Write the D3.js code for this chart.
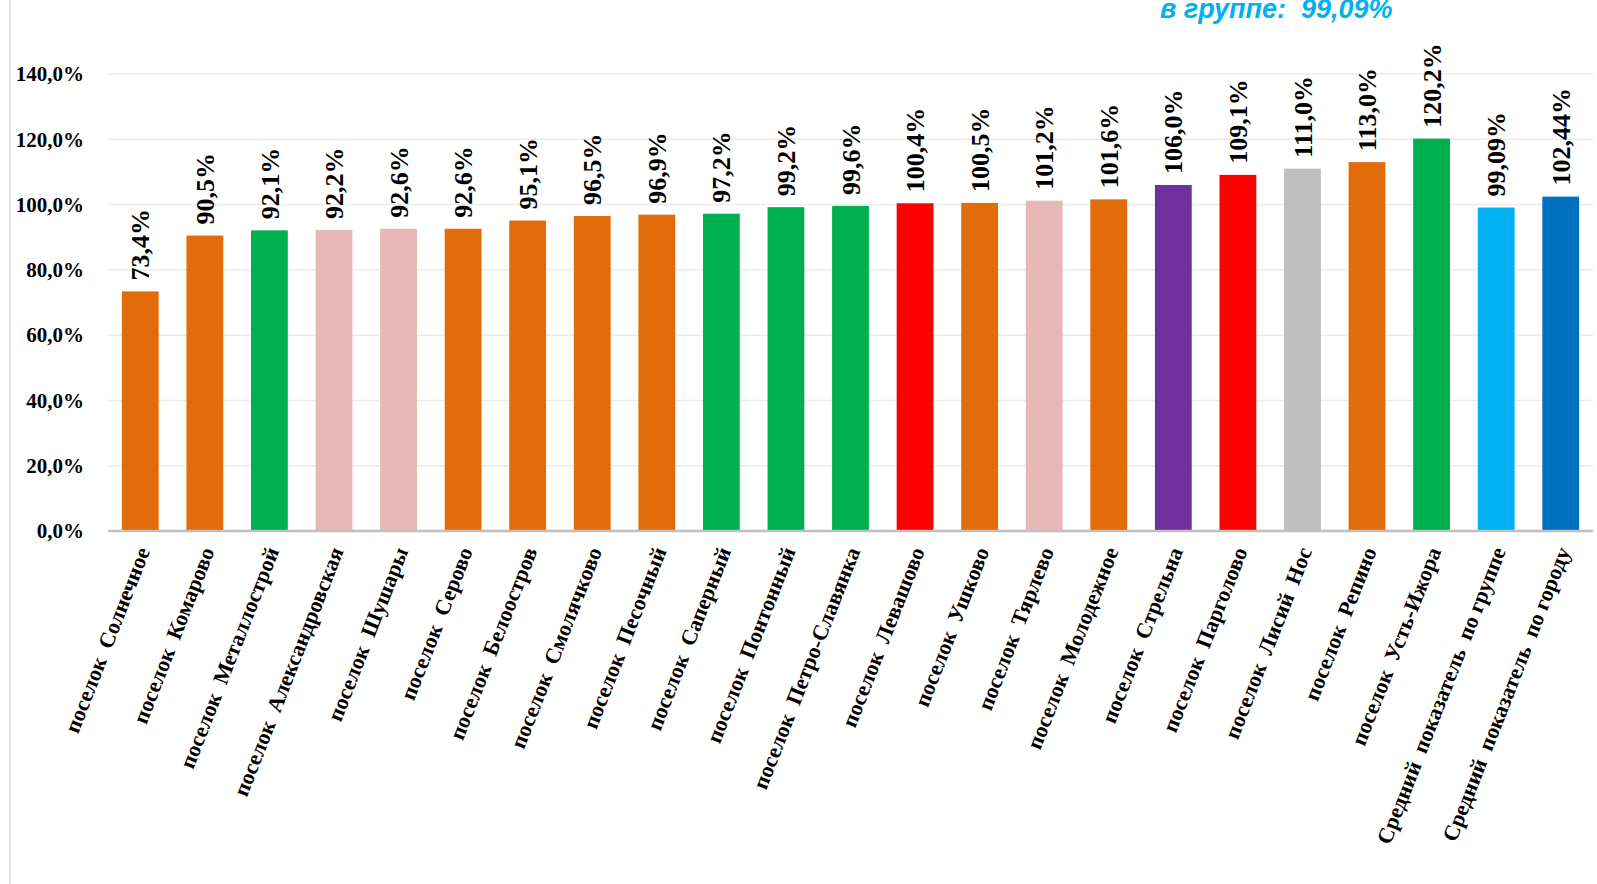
<!DOCTYPE html>
<html>
<head>
<meta charset="utf-8">
<script src="https://cdn.jsdelivr.net/npm/d3@7"></script>
<style>
    body { margin: 0; background: #fff; }
    #chart { width: 1597px; height: 884px; }
</style>
</head>
<body>
<div id="chart"></div>
<script>
const categories = [
    "поселок  Солнечное", "поселок  Комарово", "поселок  Металлострой", "поселок  Александровская",
    "поселок  Шушары", "поселок  Серово", "поселок  Белоостров", "поселок  Смолячково",
    "поселок  Песочный", "поселок  Саперный", "поселок  Понтонный", "поселок  Петро-Славянка",
    "поселок  Левашово", "поселок  Ушково", "поселок  Тярлево", "поселок  Молодежное",
    "поселок  Стрельна", "поселок  Парголово", "поселок  Лисий  Нос", "поселок  Репино",
    "поселок  Усть-Ижора", "Средний  показатель  по группе", "Средний  показатель  по городу"
];
const values = [73.4, 90.5, 92.1, 92.2, 92.6, 92.6, 95.1, 96.5, 96.9, 97.2, 99.2, 99.6,
    100.4, 100.5, 101.2, 101.6, 106.0, 109.1, 111.0, 113.0, 120.2, 99.09, 102.44];
const valueLabels = ["73,4%", "90,5%", "92,1%", "92,2%", "92,6%", "92,6%", "95,1%", "96,5%",
    "96,9%", "97,2%", "99,2%", "99,6%", "100,4%", "100,5%", "101,2%", "101,6%", "106,0%",
    "109,1%", "111,0%", "113,0%", "120,2%", "99,09%", "102,44%"];
const barColors = ["#E26B0A", "#E26B0A", "#00B050", "#E6B9B8", "#E6B9B8", "#E26B0A", "#E26B0A",
    "#E26B0A", "#E26B0A", "#00B050", "#00B050", "#00B050", "#FF0000", "#E26B0A", "#E6B9B8",
    "#E26B0A", "#7030A0", "#FF0000", "#BFBFBF", "#E26B0A", "#00B050", "#00B0F0", "#0070C0"];
const yTicks = [0, 20, 40, 60, 80, 100, 120, 140];
const yTickLabels = ["0,0%", "20,0%", "40,0%", "60,0%", "80,0%", "100,0%", "120,0%", "140,0%"];
const noteText = "в группе:  99,09%";

const serif = "'Liberation Serif', 'Times New Roman', serif";

const svg = d3.select("#chart").append("svg")
    .attr("width", 1597)
    .attr("height", 884);

const margin = {left: 108, right: 4, top: 74, bottom: 353};
const width = 1597 - margin.left - margin.right;
const height = 884 - margin.top - margin.bottom;

// thin frame line at the very left
svg.append("line")
    .attr("x1", 10).attr("x2", 10)
    .attr("y1", 0).attr("y2", 884)
    .attr("stroke", "#d9d9d9")
    .attr("stroke-width", 1.5);

const g = svg.append("g")
    .attr("transform", `translate(${margin.left},${margin.top})`);

const x = d3.scaleBand()
    .domain(categories)
    .range([0, width])
    .paddingInner(0.43)
    .paddingOuter(0.215);

const y = d3.scaleLinear()
    .domain([0, 140])
    .range([height, 0]);

// gridlines
g.selectAll("line.grid")
    .data(yTicks.filter(d => d > 0))
    .enter()
    .append("line")
    .attr("class", "grid")
    .attr("x1", 0).attr("x2", width)
    .attr("y1", d => y(d)).attr("y2", d => y(d))
    .attr("stroke", "#ebebeb")
    .attr("stroke-width", 1.5);

// y labels
g.selectAll("text.ytick")
    .data(yTicks)
    .enter()
    .append("text")
    .attr("class", "ytick")
    .attr("x", -24)
    .attr("y", d => y(d))
    .attr("dy", "0.35em")
    .attr("text-anchor", "end")
    .attr("font-family", serif)
    .attr("font-weight", "bold")
    .attr("font-size", "21px")
    .text((d, i) => yTickLabels[i]);

g.selectAll("rect.bar")
    .data(values)
    .enter()
    .append("rect")
    .attr("class", "bar")
    .attr("x", (d, i) => x(categories[i]))
    .attr("y", d => y(d))
    .attr("width", x.bandwidth())
    .attr("height", d => height - y(d))
    .attr("fill", (d, i) => barColors[i]);

// baseline
g.append("line")
    .attr("x1", 0).attr("x2", width)
    .attr("y1", height).attr("y2", height)
    .attr("stroke", "#bfbfbf")
    .attr("stroke-width", 2.5);

// value labels, vertical
g.selectAll("text.value")
    .data(values)
    .enter()
    .append("text")
    .attr("class", "value")
    .attr("transform", (d, i) => `translate(${x(categories[i]) + x.bandwidth() / 2},${y(d) - 11}) rotate(-90)`)
    .attr("dy", "0.35em")
    .attr("font-family", serif)
    .attr("font-weight", "bold")
    .attr("font-size", "26px")
    .text((d, i) => valueLabels[i]);

// category labels
g.selectAll("text.cat")
    .data(categories)
    .enter()
    .append("text")
    .attr("class", "cat")
    .attr("transform", d => `translate(${x(d) + x.bandwidth() / 2 + 10},${height + 20}) rotate(-68.5)`)
    .attr("text-anchor", "end")
    .attr("font-family", serif)
    .attr("font-weight", "bold")
    .attr("font-size", "22px")
    .style("white-space", "pre")
    .text(d => d);

// note, cut at the top edge like in the source
svg.append("text")
    .attr("x", 1160)
    .attr("y", 18)
    .attr("font-family", "'Liberation Sans', Arial, sans-serif")
    .attr("font-weight", "bold")
    .attr("font-style", "italic")
    .attr("font-size", "27px")
    .attr("fill", "#00B0F0")
    .style("white-space", "pre")
    .text(noteText);
</script>
</body>
</html>
